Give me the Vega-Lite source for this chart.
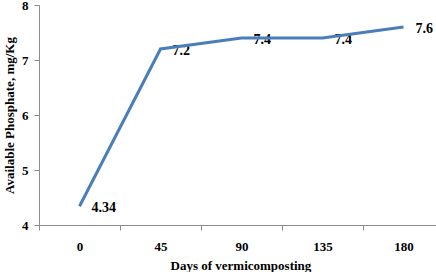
{
  "$schema": "https://vega.github.io/schema/vega-lite/v6.json",
  "autosize": {"type": "none"},
  "padding": {"left": 39, "top": 5, "right": 0, "bottom": 47},
  "width": 405,
  "height": 220,
  "background": "white",
  "config": {
    "view": {"stroke": null},
    "font": "Liberation Serif"
  },
  "data": {
    "values": [
      {"days": "0", "phosphate": 4.34},
      {"days": "45", "phosphate": 7.2},
      {"days": "90", "phosphate": 7.4},
      {"days": "135", "phosphate": 7.4},
      {"days": "180", "phosphate": 7.6}
    ]
  },
  "encoding": {
    "x": {
      "field": "days",
      "type": "ordinal",
      "sort": null,
      "scale": {"type": "band", "paddingInner": 0, "paddingOuter": 0},
      "axis": {
        "title": "Days of vermicomposting",
        "titleFont": "Liberation Serif",
        "titleFontSize": 13,
        "titleFontWeight": "bold",
        "titleColor": "#000000",
        "titlePadding": 6,
        "titleAnchor": "start",
        "titleX": 131,
        "labelAngle": 0,
        "labelFont": "Liberation Serif",
        "labelFontSize": 13,
        "labelFontWeight": "bold",
        "labelColor": "#000000",
        "labelPadding": 10,
        "tickBand": "extent",
        "tickSize": 5,
        "tickColor": "#8c8c8c",
        "domainColor": "#8c8c8c",
        "grid": false
      }
    },
    "y": {
      "field": "phosphate",
      "type": "quantitative",
      "scale": {"domain": [4, 8], "nice": false, "zero": false},
      "axis": {
        "title": "Available Phosphate, mg/Kg",
        "titleFont": "Liberation Serif",
        "titleFontSize": 13,
        "titleFontWeight": "bold",
        "titleColor": "#000000",
        "titlePadding": 5,
        "values": [4, 5, 6, 7, 8],
        "labelFont": "Liberation Serif",
        "labelFontSize": 13,
        "labelFontWeight": "bold",
        "labelColor": "#000000",
        "labelPadding": 6,
        "tickSize": 5,
        "tickColor": "#8c8c8c",
        "domainColor": "#8c8c8c",
        "grid": false
      }
    }
  },
  "layer": [
    {
      "mark": {
        "type": "text",
        "align": "left",
        "baseline": "middle",
        "dx": 12,
        "dy": 2,
        "font": "Liberation Serif",
        "fontSize": 14,
        "fontWeight": "bold",
        "color": "#000000"
      },
      "encoding": {"text": {"field": "phosphate", "type": "quantitative"}}
    },
    {
      "mark": {"type": "line", "color": "#4a7ebb", "strokeWidth": 3}
    }
  ]
}
